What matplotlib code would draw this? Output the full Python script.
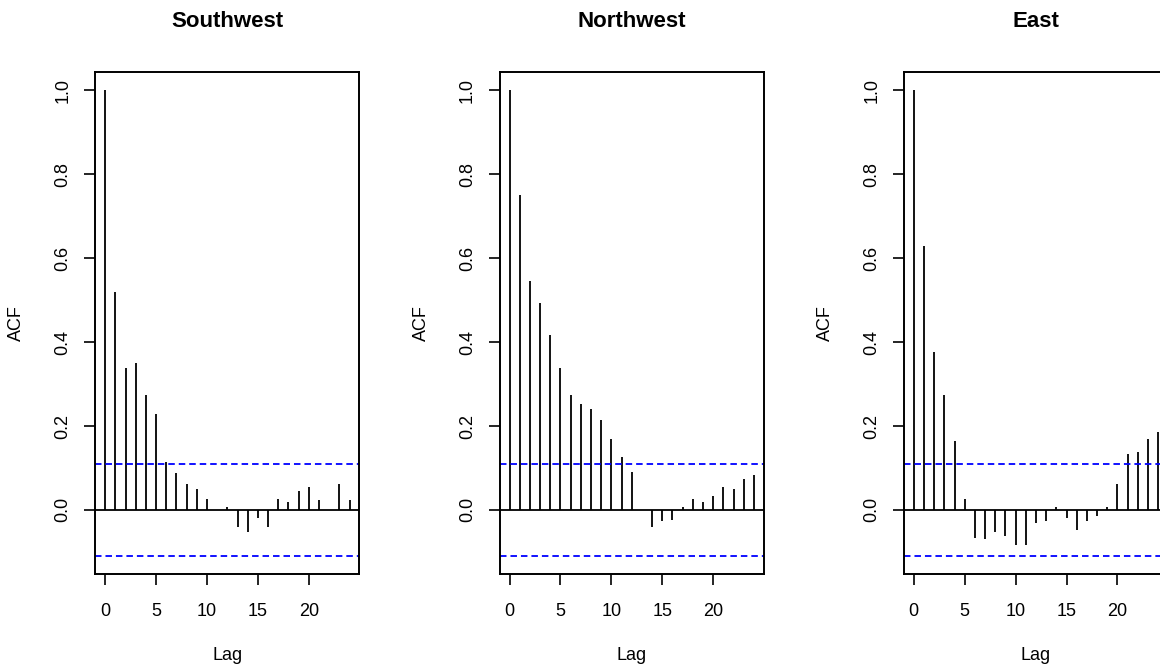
import matplotlib
matplotlib.use("Agg")
import matplotlib.pyplot as plt
import numpy as np

plt.rcParams['font.family'] = ['Liberation Sans', 'DejaVu Sans']

lags = list(range(25))
southwest = [1.0, 0.519, 0.339, 0.349, 0.275, 0.228, 0.114, 0.087, 0.062, 0.049,
             0.027, 0.0, 0.006, -0.041, -0.053, -0.019, -0.041, 0.027, 0.019, 0.045,
             0.054, 0.023, 0.0, 0.062, 0.023]
northwest = [1.0, 0.750, 0.545, 0.493, 0.416, 0.339, 0.275, 0.253, 0.241, 0.215,
             0.169, 0.126, 0.091, 0.0, -0.041, -0.027, -0.023, 0.006, 0.027, 0.019,
             0.032, 0.054, 0.049, 0.074, 0.083]
east = [1.0, 0.630, 0.377, 0.275, 0.164, 0.027, -0.066, -0.070, -0.053, -0.062,
        -0.083, -0.083, -0.032, -0.027, 0.006, -0.019, -0.049, -0.027, -0.014, 0.006,
        0.062, 0.134, 0.138, 0.169, 0.185]
titles = ["Southwest", "Northwest", "East"]
series = [southwest, northwest, east]
ci = 0.109
xticks = [0, 5, 10, 15, 20]
yticks = [0.0, 0.2, 0.4, 0.6, 0.8, 1.0]

fig = plt.figure(figsize=(11.6, 6.66), dpi=100)
lefts = [0.0822, 0.4308, 0.7793]

for left, title, acf in zip(lefts, titles, series):
    ax = fig.add_axes([left, 0.138, 0.2276, 0.754])
    ax.vlines(lags, 0, acf, colors='black', linewidth=1.3)
    ax.axhline(0, color='black', linewidth=1.3)
    for c in (ci, -ci):
        ax.axhline(c, color='#0000ff', linewidth=1.3, dashes=(3.6, 2.2))
    ax.set_xlim(-0.96, 24.96)
    ax.set_ylim(-0.153, 1.044)
    ax.set_xticks(xticks)
    ax.set_yticks(yticks)
    ax.set_yticklabels(["%.1f" % v for v in yticks], rotation=90, va='center')
    ax.tick_params(direction='out', length=8, width=1.2, labelsize=13, pad=9)
    ax.tick_params(axis='x', pad=13)
    for s in ax.spines.values():
        s.set_linewidth(1.4)
    ax.set_title(title, fontsize=16, fontweight='bold', pad=32)
    ax.set_xlabel("Lag", fontsize=13)
    ax.xaxis.set_label_coords(0.5, -0.145)
    ax.set_ylabel("ACF", fontsize=13)
    ax.yaxis.set_label_coords(-0.265, 0.5)

fig.savefig("out.png", dpi=100)
